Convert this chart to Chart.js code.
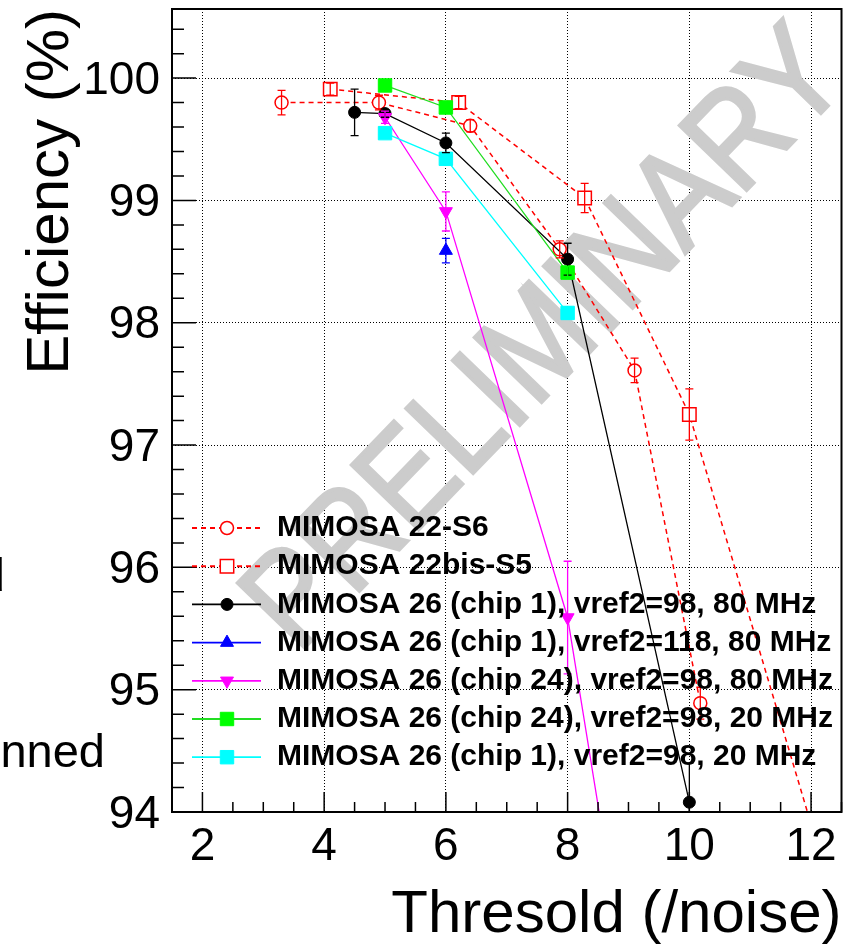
<!DOCTYPE html>
<html><head><meta charset="utf-8">
<script src="https://cdn.jsdelivr.net/npm/chart.js@4.4.1/dist/chart.umd.min.js"></script>
<style>html,body{margin:0;padding:0;background:#fff}canvas{display:block}</style>
</head><body>
<canvas id="c" width="843" height="947"></canvas>
<script>
// ---- data ----
const seriesLabels = [
  'MIMOSA 22-S6',
  'MIMOSA 22bis-S5',
  'MIMOSA 26 (chip 1), vref2=98, 80 MHz',
  'MIMOSA 26 (chip 1), vref2=118, 80 MHz',
  'MIMOSA 26 (chip 24), vref2=98, 80 MHz',
  'MIMOSA 26 (chip 24), vref2=98, 20 MHz',
  'MIMOSA 26 (chip 1), vref2=98, 20 MHz'
];
const s6X = [3.3, 4.9, 6.4, 7.87, 9.1, 10.18];
const s6Y = [99.80, 99.80, 99.61, 98.60, 97.61, 94.89];
const s6E = [0.10, 0.06, 0.05, 0.07, 0.10, 0.13];
const s5X = [4.1, 6.21, 8.28, 10.0, 12.0];
const s5Y = [99.91, 99.80, 99.02, 97.25, 93.9];
const s5E = [0.05, 0.05, 0.12, 0.21, 0];
const c1v98X = [4.5, 5.0, 6.0, 8.0, 10.0];
const c1v98Y = [99.72, 99.71, 99.47, 98.52, 94.08];
const c1v98E = [0.19, 0.03, 0.08, 0.13, 0.32];
const c1v118X = [6.0];
const c1v118Y = [98.59];
const c1v118E = [0.10];
const c24v98X = [5.0, 6.0, 8.0, 10.0];
const c24v98Y = [99.68, 98.91, 95.59, 89.45];
const c24v98E = [0.05, 0.16, 0.46, 0];
const c24f20X = [5.0, 6.0, 8.0];
const c24f20Y = [99.94, 99.76, 98.41];
const c24f20E = [0.02, 0.03, 0.05];
const c1f20X = [5.0, 6.0, 8.0];
const c1f20Y = [99.55, 99.34, 98.08];
const c1f20E = [0.02, 0.03, 0.05];
const xTickValues = [2, 4, 6, 8, 10, 12];
const yTickValues = [94, 95, 96, 97, 98, 99, 100];
const xTitle = 'Thresold (/noise)';
const yTitle = 'Efficiency (%)';
const watermark = 'PRELIMINARY';
const backgroundWords = ['d', 'nned'];

const pts = (xs, ys) => xs.map((x, i) => ({x: x, y: ys[i]}));
const FONT = '"Liberation Sans", Arial, Helvetica, sans-serif';

function mk(i, xs, ys, es, color, style, radius, opts) {
  return Object.assign({
    label: seriesLabels[i],
    data: pts(xs, ys),
    errors: es,
    showLine: true,
    borderColor: color,
    borderWidth: 1.3,
    pointStyle: style,
    pointRadius: radius,
    pointHoverRadius: radius,
    pointBackgroundColor: color,
    pointBorderColor: color,
    pointBorderWidth: 1,
    pointRotation: 0,
    clip: 0,
    order: 10 - i,
    tension: 0
  }, opts || {});
}

const datasets = [
  mk(0, s6X, s6Y, s6E, '#ff0000', 'circle', 6.5, {borderDash: [5, 4], borderWidth: 1.5, pointBackgroundColor: '#ffffff', pointBorderWidth: 1.5}),
  mk(1, s5X, s5Y, s5E, '#ff0000', 'rect', 9.5, {borderDash: [5, 4], borderWidth: 1.5, pointBackgroundColor: '#ffffff', pointBorderWidth: 1.5}),
  mk(2, c1v98X, c1v98Y, c1v98E, '#000000', 'circle', 6),
  mk(3, c1v118X, c1v118Y, c1v118E, '#0000ff', 'triangle', 7.5),
  mk(4, c24v98X, c24v98Y, c24v98E, '#ff00ff', 'triangle', 7.5, {pointRotation: 180}),
  mk(5, c24f20X, c24f20Y, c24f20E, '#00ff00', 'rect', 9.5, {borderColor: '#22dd22'}),
  mk(6, c1f20X, c1f20Y, c1f20E, '#00ffff', 'rect', 9.5)
];

function noPad(s) { s.paddingTop = 0; s.paddingBottom = 0; s.paddingLeft = 0; s.paddingRight = 0; }

const rootPlugin = {
  id: 'rootStyle',
  beforeDatasetsDraw(chart) {
    const ctx = chart.ctx, a = chart.chartArea;
    ctx.save();
    ctx.beginPath(); ctx.rect(a.left, a.top, a.right - a.left, a.bottom - a.top); ctx.clip();
    ctx.translate(548, 342);
    ctx.rotate(-46 * Math.PI / 180);
    ctx.scale(1, 1.15);
    ctx.fillStyle = '#cccccc';
    ctx.strokeStyle = '#cccccc';
    ctx.lineWidth = 3;
    ctx.font = '118px ' + FONT;
    ctx.textAlign = 'center';
    ctx.textBaseline = 'middle';
    ctx.fillText(watermark, 0, 0);
    ctx.strokeText(watermark, 0, 0);
    ctx.restore();
  },
  afterDatasetsDraw(chart) {
    const ctx = chart.ctx, a = chart.chartArea;
    const xs = chart.scales.x, ys = chart.scales.y;
    // error bars
    chart.data.datasets.forEach((ds, di) => {
      const meta = chart.getDatasetMeta(di);
      ctx.save();
      ctx.beginPath(); ctx.rect(a.left, a.top, a.right - a.left, a.bottom - a.top); ctx.clip();
      ctx.strokeStyle = ds.pointBorderColor; ctx.lineWidth = 1.3;
      meta.data.forEach((el, j) => {
        const e = ds.errors[j]; if (!e) return;
        const v = ds.data[j].y;
        const px = el.x, y1 = ys.getPixelForValue(v + e), y2 = ys.getPixelForValue(v - e);
        ctx.beginPath();
        ctx.moveTo(px, y1); ctx.lineTo(px, y2);
        ctx.moveTo(px - 4, y1); ctx.lineTo(px + 4, y1);
        ctx.moveTo(px - 4, y2); ctx.lineTo(px + 4, y2);
        ctx.stroke();
      });
      ctx.restore();
    });
    // ticks inside the frame
    ctx.save();
    ctx.strokeStyle = '#000'; ctx.lineWidth = 1.5;
    ctx.beginPath();
    for (let v = 1.5; v <= 12.5001; v += 0.5) {
      const p = xs.getPixelForValue(v);
      const major = Math.abs(v / 2 - Math.round(v / 2)) < 1e-6;
      ctx.moveTo(p, a.bottom); ctx.lineTo(p, a.bottom - (major ? 20 : 10));
    }
    for (let v = 94; v <= 100.5001; v += 0.2) {
      const p = ys.getPixelForValue(v);
      const major = Math.abs(v - Math.round(v)) < 1e-6;
      ctx.moveTo(a.left, p); ctx.lineTo(a.left + (major ? 24 : 12), p);
    }
    ctx.stroke();
    ctx.lineWidth = 2;
    ctx.strokeRect(a.left, a.top, a.right - a.left, a.bottom - a.top);
    ctx.restore();
    // legend
    const lx0 = 192, lx1 = 261, lxm = 227, ltx = 277, ly0 = 528, ldy = 38.2;
    chart.data.datasets.forEach((ds, i) => {
      const y = ly0 + i * ldy;
      ctx.save();
      ctx.strokeStyle = ds.borderColor; ctx.lineWidth = ds.borderWidth + 0.5;
      ctx.setLineDash(ds.borderDash || []);
      ctx.beginPath(); ctx.moveTo(lx0, y); ctx.lineTo(lx1, y); ctx.stroke();
      ctx.setLineDash([]);
      ctx.fillStyle = ds.pointBackgroundColor; ctx.strokeStyle = ds.pointBorderColor; ctx.lineWidth = ds.pointBorderWidth;
      Chart.helpers.drawPoint(ctx, {pointStyle: ds.pointStyle, radius: ds.pointRadius, rotation: ds.pointRotation, borderWidth: ds.pointBorderWidth}, lxm, y);
      ctx.fillStyle = '#000';
      ctx.font = 'bold 30px ' + FONT;
      ctx.textBaseline = 'middle'; ctx.textAlign = 'left';
      ctx.fillText(ds.label, ltx, y);
      ctx.restore();
    });
  },
  afterDraw(chart) {
    const ctx = chart.ctx;
    ctx.save();
    ctx.fillStyle = '#000';
    ctx.font = '47px ' + FONT;
    ctx.textAlign = 'right'; ctx.textBaseline = 'alphabetic';
    ctx.fillText(backgroundWords[0], 5, 591);
    ctx.fillText(backgroundWords[1], 105, 767);
    ctx.restore();
  }
};

new Chart(document.getElementById('c'), {
  type: 'scatter',
  data: {datasets: datasets},
  options: {
    responsive: false,
    animation: false,
    devicePixelRatio: 1,
    layout: {autoPadding: false, padding: {top: 9, right: 1.5, left: 0, bottom: 0}},
    plugins: {legend: {display: false}, tooltip: {enabled: false}},
    scales: {
      x: {
        type: 'linear', min: 1.5, max: 12.5,
        afterBuildTicks: s => { s.ticks = xTickValues.map(v => ({value: v})); },
        afterFit: s => { s.height = 135; noPad(s); },
        grid: {color: '#000', lineWidth: 1, drawTicks: false},
        border: {display: false, dash: [1, 2]},
        ticks: {color: '#000', font: {family: FONT, size: 46}, padding: 8, maxRotation: 0, autoSkip: false},
        title: {display: true, text: xTitle, align: 'end', color: '#000', font: {family: FONT, size: 60, lineHeight: 1}, padding: {top: 0, bottom: 2}}
      },
      y: {
        type: 'linear', min: 94, max: 100.565,
        afterBuildTicks: s => { s.ticks = yTickValues.map(v => ({value: v})); },
        afterFit: s => { s.width = 172; noPad(s); },
        grid: {color: '#000', lineWidth: 1, drawTicks: false},
        border: {display: false, dash: [1, 2]},
        ticks: {color: '#000', font: {family: FONT, size: 46}, padding: 12, labelOffset: 3, autoSkip: false},
        title: {display: true, text: yTitle, align: 'end', color: '#000', font: {family: FONT, size: 60, lineHeight: 1}, padding: {top: 21, bottom: 0}}
      }
    }
  },
  plugins: [rootPlugin]
});
</script>
</body></html>
